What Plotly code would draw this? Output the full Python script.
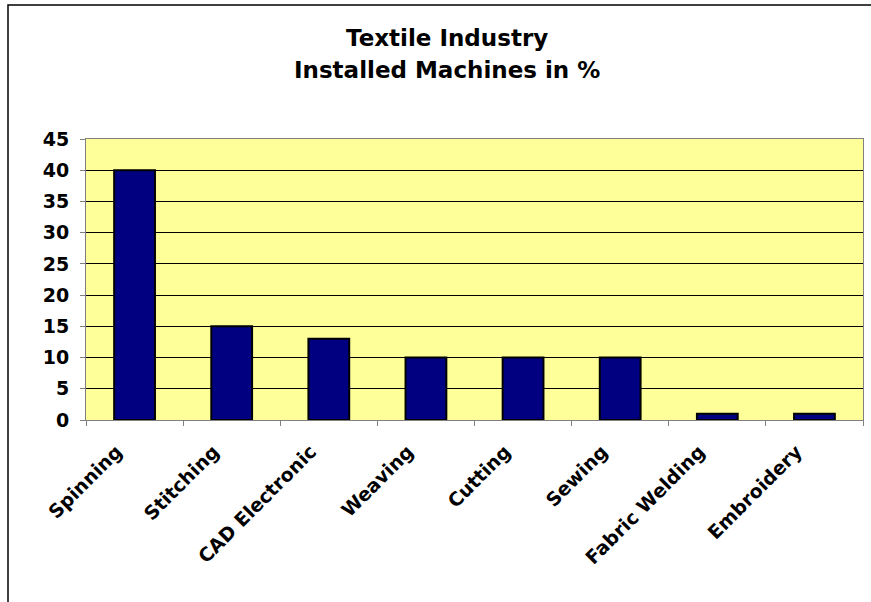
import plotly.graph_objects as go

# Share of installed machines by process
categories = ["Spinning", "Stitching", "CAD Electronic", "Weaving",
              "Cutting", "Sewing", "Fabric Welding", "Embroidery"]
share_pct = [40, 15, 13, 10, 10, 10, 1, 1]
y_ticks = [0, 5, 10, 15, 20, 25, 30, 35, 40, 45]
title_lines = ["Textile Industry", "Installed Machines in %"]

W, H = 871, 602
ML, MR, MT, MB = 86, 8, 139, 182
pw = W - ML - MR
ph = H - MT - MB

font_family = "DejaVu Sans, Verdana, sans-serif"

fig = go.Figure(
    go.Bar(
        x=categories,
        y=share_pct,
        marker=dict(color="#000080", line=dict(color="#000000", width=2)),
        hoverinfo="x+y",
    )
)

fig.update_layout(
    width=W,
    height=H,
    margin=dict(l=ML, r=MR, t=MT, b=MB),
    paper_bgcolor="#FFFFFF",
    plot_bgcolor="#FFFF99",
    bargap=0.58,
    showlegend=False,
    font=dict(family=font_family, color="#000000"),
)

# Two-line chart title
for line, y_px in zip(title_lines, [38, 70]):
    fig.add_annotation(
        text="<b>%s</b>" % line,
        xref="paper", yref="paper",
        x=(447 - ML) / pw, y=1 + (MT - y_px) / ph,
        xanchor="center", yanchor="middle",
        showarrow=False,
        font=dict(family=font_family, size=23, color="#000000"),
    )

fig.update_xaxes(
    type="category",
    tickson="boundaries",
    ticks="outside",
    ticklen=5,
    tickcolor="#808080",
    tickwidth=1,
    showline=True,
    linecolor="#808080",
    linewidth=1,
    mirror=True,
    showgrid=False,
    tickangle=-45,
    ticklabelshift=-18,
    ticklabelstandoff=12,
    tickfont=dict(family=font_family, size=19, color="#000000", weight="bold"),
)

fig.update_yaxes(
    range=[0, 45],
    tickvals=y_ticks,
    ticks="outside",
    ticklen=5,
    tickcolor="#808080",
    showline=True,
    linecolor="#808080",
    linewidth=1,
    mirror=True,
    showgrid=True,
    gridcolor="#000000",
    gridwidth=1,
    zeroline=False,
    ticklabelstandoff=7,
    tickfont=dict(family=font_family, size=19, color="#000000", weight="bold"),
)

# Outer chart frame (extends past the right and bottom of the canvas)
fig.add_shape(
    type="rect",
    xref="paper", yref="paper",
    x0=(8 - ML) / pw, x1=(W + 20 - ML) / pw,
    y0=-(H + 20 - MT - ph) / ph, y1=(MT - 5) / ph + 1,
    line=dict(color="#000000", width=1.5),
    fillcolor="rgba(0,0,0,0)",
    layer="below",
)

fig.write_html("out.html")
